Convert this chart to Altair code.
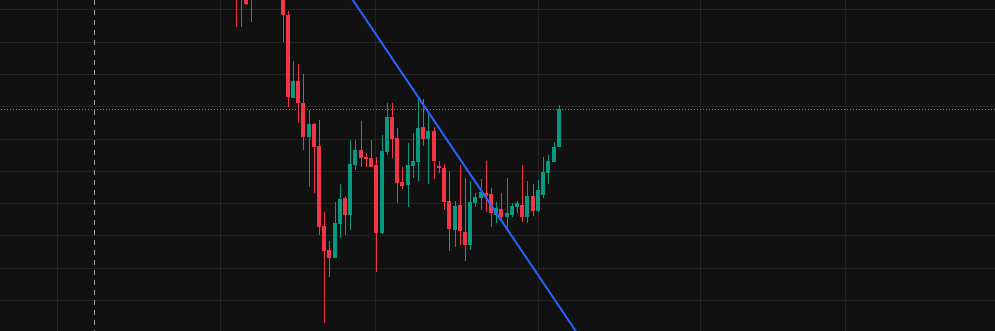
import altair as alt
import pandas as pd

# ---- data ----
opens = [11.38, 10.45, 10.91, 10.45, 11.40, 11.90, 12.20, 11.80, 11.10, 10.80,
         9.83, 7.27, 7.78, 7.09, 6.06, 6.45, 5.78, 3.30, 2.55, 2.31,
         3.35, 4.15, 3.63, 5.18, 5.65, 5.44, 5.39, 5.18, 3.07, 5.59,
         6.68, 6.01, 4.66, 4.56, 5.16, 5.28, 6.35, 5.99, 6.24, 5.14,
         5.08, 4.07, 3.18, 3.93, 3.12, 2.70, 4.01, 4.15, 4.33, 4.28,
         3.63, 3.82, 3.58, 3.63, 3.89, 3.94, 3.58, 4.22, 3.76, 4.25,
         4.95, 5.29, 5.74]
highs = [11.69, 11.53, 11.22, 11.69, 12.10, 12.40, 12.60, 12.00, 11.40, 11.07,
         9.95, 8.40, 8.30, 8.00, 6.89, 6.49, 6.58, 3.74, 2.83, 4.03,
         4.59, 4.22, 5.96, 5.96, 6.55, 5.56, 5.96, 5.44, 6.11, 7.09,
         7.09, 6.32, 5.11, 5.85, 6.16, 7.28, 7.22, 6.80, 6.35, 5.31,
         5.21, 4.99, 4.07, 5.18, 4.77, 4.70, 4.31, 4.74, 5.32, 4.46,
         4.05, 4.31, 4.79, 4.00, 4.07, 5.18, 4.69, 4.58, 4.72, 5.44,
         5.48, 5.90, 7.03]
lows = [9.46, 9.46, 10.14, 9.61, 10.60, 11.50, 11.60, 10.90, 10.50, 9.00,
        6.99, 7.26, 6.47, 5.65, 4.51, 4.31, 3.01, 0.28, 1.72, 2.29,
        2.91, 3.01, 3.17, 5.04, 5.11, 5.13, 5.11, 1.88, 3.04, 5.49,
        5.39, 4.00, 4.43, 3.87, 4.77, 4.70, 5.77, 4.59, 4.74, 4.93,
        3.79, 2.53, 2.63, 2.70, 2.22, 2.55, 3.89, 3.79, 3.73, 3.27,
        3.40, 3.43, 3.22, 3.58, 3.69, 3.43, 3.39, 3.61, 3.74, 4.17,
        4.59, 5.28, 5.73]
closes = [10.54, 11.22, 10.17, 11.38, 11.90, 12.20, 11.80, 11.10, 10.80, 9.83,
          7.30, 7.79, 7.09, 6.06, 6.45, 5.75, 3.27, 2.53, 2.31, 3.38,
          4.13, 3.63, 5.20, 5.65, 5.39, 5.37, 5.13, 3.07, 5.62, 6.68,
          5.98, 4.62, 4.53, 5.18, 5.32, 6.34, 5.98, 6.24, 5.30, 5.09,
          4.05, 3.19, 3.91, 3.14, 2.70, 4.05, 4.18, 4.34, 4.22, 3.70,
          3.86, 3.58, 3.69, 3.91, 4.00, 3.58, 4.23, 3.76, 4.41, 4.96,
          5.31, 5.75, 6.92]

x_grid = [-34.2, -3.0, 26.8, 58.1, 89.1, 117.0]
y_grid = [1, 2, 3, 4, 5, 6, 7, 8, 9, 10]
trend_idx = [20, 70]
trend_price = [10.87, -1.07]
marker_idx = [-27.1]
last_close = [closes[-1]]

# ---- styling ----
BG = "#111111"
GRID = "#242424"
UP = "#089981"
DOWN = "#F23645"
BLUE = "#2962FF"

df = pd.DataFrame({
    "i": list(range(len(opens))),
    "open": opens, "high": highs, "low": lows, "close": closes,
})
df["dir"] = ["up" if c >= o else "down" for o, c in zip(opens, closes)]

x_scale = alt.Scale(domain=[-44.26, 144.76], nice=False, zero=False, round=True)
y_scale = alt.Scale(domain=[0.04, 10.294], nice=False, zero=False, round=True)

x_axis = alt.Axis(values=x_grid, tickCount=50, grid=True, gridColor=GRID, gridWidth=1,
                  labels=False, ticks=False, domain=False, title=None)
y_axis = alt.Axis(values=y_grid, tickCount=50, grid=True, gridColor=GRID, gridWidth=1,
                  labels=False, ticks=False, domain=False, title=None)

color = alt.Color("dir:N", scale=alt.Scale(domain=["up", "down"], range=[UP, DOWN]),
                  legend=None)

base = alt.Chart(df)

wicks = base.mark_rule(strokeWidth=1, clip=True, xOffset=0.5).encode(
    x=alt.X("i:Q", scale=x_scale, axis=x_axis),
    y=alt.Y("low:Q", scale=y_scale, axis=y_axis),
    y2="high:Q",
    color=color,
)

bodies = base.mark_bar(size=4, clip=True).encode(
    x=alt.X("i:Q", scale=x_scale),
    y=alt.Y("open:Q", scale=y_scale),
    y2="close:Q",
    color=color,
)

price_line = alt.Chart(pd.DataFrame({"p": last_close})).mark_rule(
    color="#1fa595", strokeDash=[1, 2], strokeWidth=1, yOffset=0.5
).encode(y=alt.Y("p:Q", scale=y_scale))

marker = alt.Chart(pd.DataFrame({"m": marker_idx})).mark_rule(
    color="#a0a0a0", strokeDash=[5, 5], strokeWidth=1, xOffset=0.5
).encode(x=alt.X("m:Q", scale=x_scale))

trend = alt.Chart(pd.DataFrame({"t": trend_idx, "v": trend_price})).mark_line(
    color=BLUE, strokeWidth=2, clip=True
).encode(x=alt.X("t:Q", scale=x_scale), y=alt.Y("v:Q", scale=y_scale))

chart = alt.layer(marker, price_line, wicks, bodies, trend).properties(
    width=995, height=331, padding=0, autosize=alt.AutoSizeParams(type="none"),
    background=BG,
).configure_view(stroke=None)

chart.save("out.html", embed_options={"renderer": "svg", "actions": False})
